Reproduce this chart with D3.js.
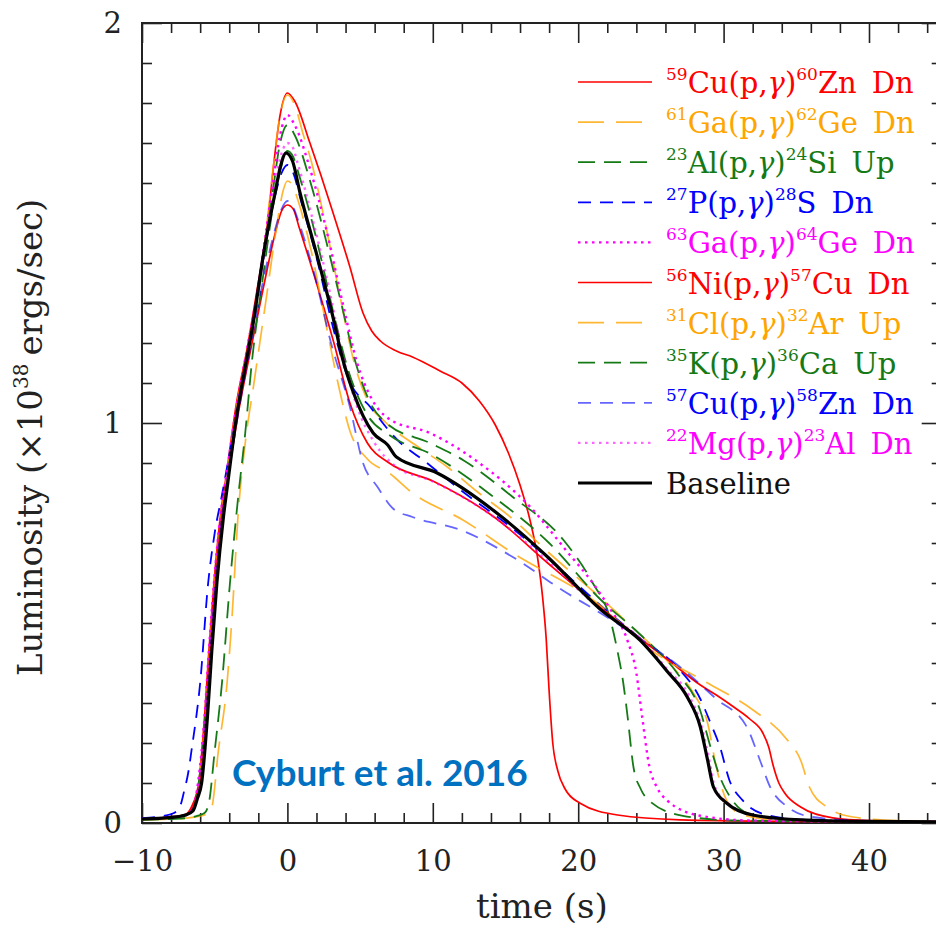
<!DOCTYPE html>
<html>
<head>
<meta charset="utf-8">
<script src="https://cdn.jsdelivr.net/npm/d3@7"></script>
<style>
  body { margin: 0; background: #fff; }
  svg { display: block; }
</style>
</head>
<body>
<div id="chart"></div>
<script>
// tick labels
const xTicks = [-10, 0, 10, 20, 30, 40];
const yTicks = [0, 1, 2];

// legend text pieces
const targets  = [["59", "Cu"], ["61", "Ga"], ["23", "Al"], ["27", "P"], ["63", "Ga"],
                  ["56", "Ni"], ["31", "Cl"], ["35", "K"], ["57", "Cu"], ["22", "Mg"]];
const products = [["60", "Zn"], ["62", "Ge"], ["24", "Si"], ["28", "S"], ["64", "Ge"],
                  ["57", "Cu"], ["32", "Ar"], ["36", "Ca"], ["58", "Zn"], ["23", "Al"]];
const changes  = ["Dn", "Dn", "Up", "Dn", "Dn", "Dn", "Up", "Up", "Dn", "Dn"];

// light curves: [time (s), luminosity (1e38 erg/s)]
const cu59 = [[-10,0.01],[-8,0.015],[-7,0.022],[-6.6,0.04],[-6.1,0.1],[-5.7,0.265],[-5.4,0.43],[-5.05,0.6],[-4.6,0.77],[-4.2,0.87],[-3.5,1.05],[-2.8,1.18],[-2.1,1.33],[-1.4,1.49],[-0.9,1.66],[-0.5,1.77],[0,1.825],[0.5,1.805],[1.55,1.7],[2.3,1.62],[3.1,1.53],[4.3,1.39],[5.2,1.275],[5.8,1.23],[6.4,1.205],[7.5,1.18],[8.6,1.165],[10.5,1.13],[12,1.1],[13.2,1.055],[14.3,0.995],[15.2,0.925],[16,0.845],[16.7,0.755],[17.2,0.665],[17.55,0.565],[17.8,0.46],[18.0,0.33],[18.25,0.2],[18.6,0.13],[19.1,0.085],[20.1,0.05],[22.7,0.02],[27,0.008],[35,0.004],[45,0.003]];
const ga61 = [[-10,0.01],[-8,0.015],[-7,0.02],[-6.5,0.035],[-6.1,0.1],[-5.65,0.265],[-5.35,0.43],[-5.0,0.6],[-4.55,0.77],[-4.2,0.86],[-3.5,1.04],[-2.8,1.17],[-2.1,1.31],[-1.5,1.47],[-1.0,1.63],[-0.5,1.77],[0,1.82],[0.5,1.795],[1.1,1.72],[1.6,1.66],[2.6,1.5],[3.6,1.32],[4.6,1.15],[5.6,1.05],[6.8,1.0],[9,0.94],[11,0.89],[13,0.83],[15.5,0.76],[18,0.675],[21,0.58],[24,0.48],[26.5,0.39],[28,0.32],[28.9,0.25],[29.5,0.14],[30.2,0.057],[31.3,0.02],[34,0.007],[45,0.003]];
const al23 = [[-10,0.01],[-8,0.015],[-7,0.02],[-6.5,0.035],[-6.1,0.1],[-5.65,0.265],[-5.3,0.43],[-4.95,0.6],[-4.5,0.77],[-4.15,0.86],[-3.45,1.03],[-2.7,1.18],[-2.1,1.3],[-1.5,1.45],[-1.0,1.58],[-0.5,1.7],[0,1.745],[0.5,1.72],[1.6,1.6],[2.7,1.45],[3.7,1.3],[4.7,1.15],[5.7,1.05],[6.8,1.0],[9.8,0.95],[12.1,0.907],[15.5,0.815],[19,0.707],[21,0.6],[22.2,0.51],[22.7,0.43],[23.1,0.35],[23.4,0.265],[23.8,0.14],[24.3,0.085],[24.9,0.055],[27.2,0.018],[31,0.006],[45,0.003]];
const p27 = [[-10,0.012],[-8.5,0.018],[-7.8,0.025],[-7.4,0.04],[-7.1,0.08],[-6.8,0.13],[-6.6,0.18],[-6.0,0.35],[-5.45,0.6],[-5.0,0.725],[-4.5,0.82],[-4.0,0.92],[-3.4,1.04],[-2.7,1.18],[-1.8,1.38],[-0.9,1.56],[-0.4,1.625],[0,1.645],[0.4,1.625],[0.9,1.56],[2.1,1.4],[3.2,1.23],[4.2,1.11],[5.7,1.04],[7.5,0.96],[9.6,0.9],[12,0.83],[15,0.75],[18,0.66],[21.5,0.545],[24.5,0.455],[26.8,0.39],[28.4,0.31],[29.1,0.25],[29.75,0.19],[30.4,0.107],[31.3,0.057],[33,0.02],[36,0.007],[45,0.003]];
const ga63 = [[-10,0.01],[-8,0.015],[-7,0.02],[-6.5,0.035],[-6.15,0.1],[-5.7,0.265],[-5.4,0.43],[-5.05,0.6],[-4.6,0.77],[-4.2,0.87],[-3.5,1.04],[-2.8,1.18],[-2.1,1.32],[-1.5,1.47],[-1.0,1.6],[-0.5,1.72],[0,1.77],[0.5,1.745],[1.6,1.63],[2.7,1.48],[3.8,1.3],[4.8,1.15],[5.8,1.06],[7,1.01],[9.8,0.975],[13.2,0.9],[16.7,0.79],[19.2,0.68],[21,0.6],[22.2,0.535],[23.4,0.455],[24.0,0.375],[24.4,0.265],[24.9,0.14],[25.4,0.09],[26.1,0.057],[28.4,0.018],[32,0.006],[45,0.003]];
const ni56 = [[-10,0.01],[-8,0.014],[-7,0.02],[-6.5,0.04],[-6.0,0.1],[-5.6,0.265],[-5.3,0.43],[-4.95,0.6],[-4.5,0.77],[-4.1,0.86],[-3.4,1.02],[-2.6,1.17],[-1.7,1.33],[-0.8,1.48],[-0.4,1.53],[0,1.545],[0.4,1.535],[0.8,1.49],[2.0,1.35],[3.2,1.2],[4.3,1.05],[5.5,0.95],[7.0,0.9],[10,0.855],[14.4,0.76],[17.9,0.65],[21.5,0.54],[24.3,0.46],[26.1,0.41],[28.4,0.345],[29.5,0.32],[30.7,0.29],[31.8,0.26],[32.7,0.225],[33.1,0.19],[33.4,0.145],[33.8,0.1],[34.2,0.075],[35.3,0.04],[37.5,0.013],[40,0.006],[45,0.003]];
const cl31 = [[-10,0.008],[-8,0.01],[-7,0.012],[-6.2,0.016],[-5.6,0.022],[-5.2,0.04],[-4.75,0.18],[-4.15,0.35],[-3.8,0.52],[-3.4,0.765],[-2.9,0.95],[-2.3,1.1],[-1.5,1.3],[-0.7,1.5],[-0.3,1.58],[0,1.605],[0.35,1.595],[0.7,1.56],[1.7,1.42],[2.8,1.22],[3.6,1.08],[4.3,0.98],[5.5,0.91],[7,0.875],[8.6,0.825],[12.1,0.757],[15.5,0.675],[21.3,0.55],[25.1,0.43],[28.9,0.35],[32,0.283],[34.4,0.207],[35.3,0.157],[35.9,0.09],[37.1,0.04],[38.9,0.015],[42,0.006],[45,0.004]];
const k35 = [[-10,0.008],[-8,0.01],[-7,0.012],[-6.2,0.018],[-5.7,0.025],[-5.4,0.05],[-5.0,0.18],[-4.5,0.35],[-3.95,0.6],[-3.4,0.81],[-2.9,0.975],[-2.45,1.15],[-1.7,1.36],[-0.8,1.58],[-0.35,1.65],[0,1.68],[0.4,1.665],[0.8,1.62],[2.0,1.46],[3.2,1.27],[4.2,1.13],[5.5,1.02],[7,0.97],[10,0.92],[14,0.82],[18,0.7],[21.5,0.56],[24.3,0.47],[26.8,0.375],[28.4,0.28],[29.1,0.19],[29.75,0.115],[30.6,0.057],[32,0.02],[35,0.007],[45,0.003]];
const cu57 = [[-10,0.01],[-8,0.014],[-7,0.02],[-6.5,0.035],[-6.0,0.1],[-5.6,0.265],[-5.3,0.43],[-4.95,0.6],[-4.5,0.765],[-4.1,0.86],[-3.4,1.02],[-2.6,1.18],[-1.7,1.35],[-0.8,1.49],[-0.4,1.535],[0,1.555],[0.4,1.54],[0.8,1.5],[1.8,1.38],[3.0,1.2],[4.3,1.04],[5.2,0.9],[6.2,0.84],[7.3,0.785],[8.6,0.765],[12.1,0.73],[15.5,0.665],[19,0.58],[21.3,0.53],[24.5,0.455],[27,0.39],[29.5,0.31],[31.6,0.24],[32.5,0.157],[33.2,0.09],[34.4,0.04],[36.1,0.015],[40,0.005],[45,0.003]];
const mg22 = [[-10,0.01],[-8,0.015],[-7,0.02],[-6.5,0.035],[-6.1,0.1],[-5.6,0.265],[-5.3,0.43],[-4.9,0.6],[-4.45,0.77],[-4.1,0.86],[-3.45,1.03],[-2.7,1.18],[-1.6,1.42],[-0.7,1.63],[-0.3,1.685],[0,1.70],[0.35,1.69],[0.7,1.65],[1.8,1.5],[2.9,1.33],[3.8,1.17],[4.8,1.04],[6,0.95],[7.5,0.89],[9.8,0.857],[14.4,0.76],[17.9,0.655],[21.5,0.535],[24.3,0.46],[26.1,0.385],[27.6,0.32],[28.5,0.24],[29.0,0.16],[29.4,0.09],[30.3,0.05],[32,0.02],[35,0.008],[45,0.003]];
const baseline = [[-10,0.01],[-8,0.014],[-7,0.02],[-6.5,0.03],[-6.2,0.06],[-5.9,0.1],[-5.5,0.265],[-5.2,0.43],[-4.85,0.6],[-4.4,0.765],[-4.1,0.85],[-3.5,1.015],[-2.8,1.16],[-2.35,1.25],[-1.7,1.41],[-0.85,1.575],[-0.45,1.645],[-0.1,1.675],[0.35,1.655],[0.87,1.575],[2.1,1.41],[3.1,1.27],[3.8,1.16],[4.5,1.08],[5.9,0.975],[6.9,0.945],[7.5,0.915],[10.3,0.875],[14.4,0.775],[17.9,0.665],[21.5,0.535],[24.25,0.457],[26.1,0.38],[27.5,0.315],[28.4,0.24],[28.9,0.157],[29.3,0.09],[30.2,0.05],[32,0.02],[35.3,0.008],[40,0.004],[45,0.003]];

const curves = [cu59, ga61, al23, p27, ga63, ni56, cl31, k35, cu57, mg22];

// line styles, same order as curves
const colors = ["#ff0000", "#ffa500", "#157a15", "#0000ff", "#ff00ff",
                "#ff0000", "#ffa500", "#157a15", "#0000ff", "#ff00ff"];
const dashes = [null, "26,12", "17,9", "13,9", "2.5,4.5",
                null, "26,12", "17,9", "13,9", "2.5,4.5"];
const widths = [1.7, 1.7, 1.8, 1.8, 2.4, 1.7, 1.7, 1.8, 1.8, 2.4];
const alphas = [1, 0.8, 1, 1, 1, 1, 0.8, 1, 0.6, 0.6];

const width = 936, height = 928;
const serif = "DejaVu Serif";

const svg = d3.select("#chart")
    .append("svg")
    .attr("width", width)
    .attr("height", height);

const x = d3.scaleLinear().domain([-10, 45]).range([142, 941.7]);
const y = d3.scaleLinear().domain([0, 2]).range([823, 23]);

const xMinor = d3.range(-10, 46, 2).filter(v => v % 10 !== 0);
const yMinor = d3.range(0, 2.001, 0.1).map(v => +v.toFixed(1)).filter(v => !yTicks.includes(v));

function styleAxis(g) {
    g.select(".domain").remove();
    g.selectAll("line").attr("stroke", "#222").attr("stroke-width", 1.6);
    g.selectAll("text").attr("font-family", serif).attr("font-size", 29).attr("fill", "#222");
}

// bottom
svg.append("g").attr("transform", `translate(0,${y(0)})`)
    .call(d3.axisBottom(x).tickValues(xMinor).tickSize(-10).tickFormat(""))
    .call(styleAxis);
svg.append("g").attr("transform", `translate(0,${y(0)})`)
    .call(d3.axisBottom(x).tickValues(xTicks).tickSize(-20).tickPadding(27))
    .call(styleAxis);
// top
svg.append("g").attr("transform", `translate(0,${y(2)})`)
    .call(d3.axisTop(x).tickValues(xMinor).tickSize(-10).tickFormat(""))
    .call(styleAxis);
svg.append("g").attr("transform", `translate(0,${y(2)})`)
    .call(d3.axisTop(x).tickValues(xTicks).tickSize(-20).tickFormat(""))
    .call(styleAxis);
// left
svg.append("g").attr("transform", `translate(${x(-10)},0)`)
    .call(d3.axisLeft(y).tickValues(yMinor).tickSize(-10).tickFormat(""))
    .call(styleAxis);
svg.append("g").attr("transform", `translate(${x(-10)},0)`)
    .call(d3.axisLeft(y).tickValues(yTicks).tickSize(-20).tickPadding(20).tickFormat(d3.format("d")))
    .call(styleAxis);
// right
svg.append("g").attr("transform", `translate(${x(45)},0)`)
    .call(d3.axisRight(y).tickValues(yMinor).tickSize(-10).tickFormat(""))
    .call(styleAxis);
svg.append("g").attr("transform", `translate(${x(45)},0)`)
    .call(d3.axisRight(y).tickValues(yTicks).tickSize(-20).tickFormat(""))
    .call(styleAxis);

// frame
svg.append("rect")
    .attr("x", x(-10)).attr("y", y(2))
    .attr("width", x(45) - x(-10)).attr("height", y(0) - y(2))
    .attr("fill", "none").attr("stroke", "#222").attr("stroke-width", 2);

// axis titles
svg.append("text")
    .attr("x", x(17.5)).attr("y", 918)
    .attr("text-anchor", "middle")
    .attr("font-family", serif).attr("font-size", 34).attr("fill", "#222")
    .text("time (s)");

const yTitle = svg.append("text")
    .attr("transform", "translate(42,676) rotate(-90)")
    .attr("font-family", serif).attr("font-size", 34).attr("fill", "#222");
yTitle.append("tspan").text("Luminosity (×10");
yTitle.append("tspan").attr("font-size", 20).attr("dy", -14).text("38");
yTitle.append("tspan").attr("dy", 14).attr("dx", 8).text("ergs/sec)");

// curves
const line = d3.line()
    .x(d => x(d[0]))
    .y(d => y(d[1]))
    .curve(d3.curveMonotoneX);

curves.forEach((c, i) => {
    svg.append("path")
        .attr("d", line(c))
        .attr("fill", "none")
        .attr("stroke", colors[i])
        .attr("stroke-opacity", alphas[i])
        .attr("stroke-width", widths[i])
        .attr("stroke-dasharray", dashes[i]);
});

svg.append("path")
    .attr("d", line(baseline))
    .attr("fill", "none")
    .attr("stroke", "#000")
    .attr("stroke-width", 3.2);

// legend
const legend = svg.append("g");
const rowY = i => 82 + 40.1 * i;

targets.forEach((t, i) => {
    const g = legend.append("g").attr("transform", `translate(0,${rowY(i)})`);
    g.append("line")
        .attr("x1", 578).attr("x2", 652)
        .attr("stroke", colors[i])
        .attr("stroke-opacity", alphas[i])
        .attr("stroke-width", widths[i])
        .attr("stroke-dasharray", dashes[i]);
    const txt = g.append("text")
        .attr("x", 666).attr("y", 11)
        .attr("font-family", serif).attr("font-size", 29)
        .attr("fill", colors[i]);
    txt.append("tspan").attr("font-size", 17).attr("dy", -13).text(t[0]);
    txt.append("tspan").attr("dy", 13).text(t[1] + "(p,");
    txt.append("tspan").attr("font-style", "italic").text("γ");
    txt.append("tspan").text(")");
    txt.append("tspan").attr("font-size", 17).attr("dy", -13).text(products[i][0]);
    txt.append("tspan").attr("dy", 13).text(products[i][1]);
    txt.append("tspan").attr("dx", 15).text(changes[i]);
});

const gb = legend.append("g").attr("transform", `translate(0,${rowY(10)})`);
gb.append("line").attr("x1", 578).attr("x2", 652)
    .attr("stroke", "#000").attr("stroke-width", 3.2);
gb.append("text").attr("x", 666).attr("y", 11)
    .attr("font-family", serif).attr("font-size", 29).attr("fill", "#111")
    .text("Baseline");

// citation
svg.append("text")
    .attr("x", 232).attr("y", 786)
    .attr("font-family", "Lato, 'Open Sans', sans-serif")
    .attr("font-weight", "bold")
    .attr("font-size", 37)
    .attr("fill", "#0070c0")
    .text("Cyburt et al. 2016");
</script>
</body>
</html>
